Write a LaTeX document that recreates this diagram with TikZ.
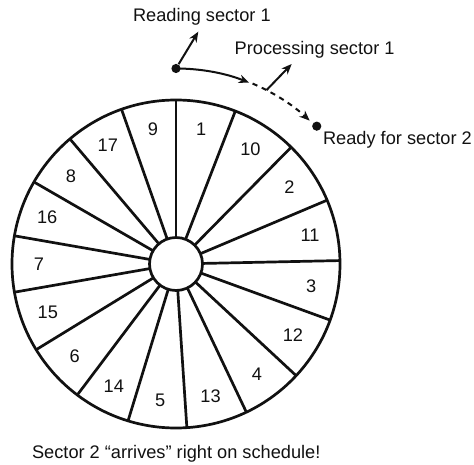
\documentclass[tikz,border=0pt]{standalone}
\usepackage{fontspec}
\setmainfont{Liberation Sans}
\usetikzlibrary{arrows.meta}
\definecolor{ink}{HTML}{111111}
\tikzset{
  >={Stealth[length=5.2pt,width=4.2pt]},
  every picture/.style={line join=round},
  rim/.style={draw=ink, line width=1.35pt},
  spoke/.style={draw=ink, line width=1.35pt},
  hub/.style={circle, draw=ink, fill=white, line width=1.35pt, inner sep=0pt, minimum size=26.5pt},
  num/.style={font=\fontsize{9.1}{11}\selectfont, text=ink},
  lbl/.style={font=\fontsize{9.1}{11}\selectfont, text=ink, anchor=base west, inner sep=0pt},
  head/.style={circle, fill=ink, inner sep=0pt, minimum size=4.6pt},
  arr/.style={->, draw=ink, line width=1pt},
  dasharr/.style={arr, dash pattern=on 2.6pt off 2.4pt},
}
\begin{document}
\begin{tikzpicture}[x=0.5pt,y=0.5pt]
  \useasboundingbox (-176,-200) rectangle (298,264);
  % platter with interleaved sectors
  \draw[rim] (0,0) circle[radius=164];
  \foreach \a/\b/\n in {90/68.8/1, 68.8/45.4/10, 45.4/22.9/2, 22.9/1.2/11, 1.2/-20/3,
    -20/-42.9/12, -42.9/-64.6/4, -64.6/-86.2/13, -86.2/-107/5, -107/-127/14,
    -127/-148.5/6, -148.5/-170.1/15, -170.1/-189.9/7, -189.9/-210/16,
    -210/-229.7/8, -229.7/-250.6/17, -250.6/-270/9} {
    \draw[spoke] (\a:26) -- (\a:164);
    \node[num] (s\n) at ({(\a+\b)/2}:137) {\n};
  }
  \node[hub] (hub) at (0,0) {};
  % head positions
  \node[head] (rd) at (90:195.5) {};
  \node[head] (rdy) at (44.4:197) {};
  \coordinate (rdtip) at (22.3,232.3);
  \coordinate (gap) at (67:196);
  \coordinate (proc) at (62.5:196);
  \coordinate (proctip) at (115.7,200);
  \draw[arr] (rd) -- (rdtip);
  \draw[arr] (rd.center) arc[start angle=90, end angle=68, radius=195.5];
  \draw[dasharr] (gap) arc[start angle=67, end angle=47, radius=196];
  \draw[arr] (proc) -- (proctip);
  % texts
  \node[lbl] (reading) at (-43.3,242.5) {Reading sector 1};
  \node[lbl] (processing) at (58.3,209) {Processing sector 1};
  \node[lbl] (ready) at (146.7,119) {Ready for sector 2};
  \node[lbl] (caption) at (-144.3,-194.3) {Sector 2 “arrives” right on schedule!};
\end{tikzpicture}
\end{document}
